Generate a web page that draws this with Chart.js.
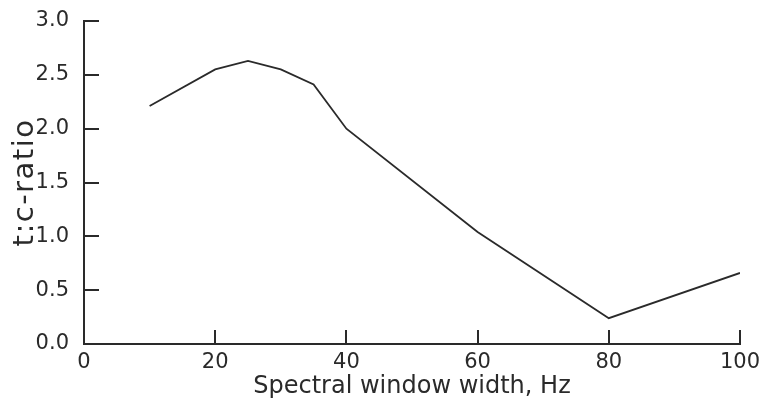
<!DOCTYPE html>
<html>
<head>
<meta charset="utf-8">
<script src="https://cdn.jsdelivr.net/npm/chart.js@4/dist/chart.umd.min.js"></script>
<style>
  html, body { margin: 0; padding: 0; background: #fff; }
  #wrap { width: 761px; height: 405px; }
</style>
</head>
<body>
<div id="wrap"><canvas id="chart" width="761" height="405"></canvas></div>
<script>
// Values.
const widths = [10, 20, 25, 30, 35, 40, 60, 80, 100];
const ratios = [2.21, 2.55, 2.63, 2.55, 2.41, 2.0, 1.04, 0.24, 0.66];

const xTitle = 'Spectral window width, Hz';
const yTitle = 't:c-ratio';

const ink = '#2a2a2a';
const tickFont = {family: 'DejaVu Sans', size: 21};

// Short tick marks pointing into the plot, like the original.
const innerTicks = {
  id: 'innerTicks',
  afterDraw: (chart) => {
    const {ctx, chartArea, scales} = chart;
    ctx.save();
    ctx.strokeStyle = ink;
    ctx.lineWidth = 2;
    ctx.beginPath();
    scales.y.ticks.forEach(t => {
      const py = Math.round(scales.y.getPixelForValue(t.value));
      ctx.moveTo(chartArea.left, py);
      ctx.lineTo(chartArea.left + 15, py);
    });
    scales.x.ticks.forEach(t => {
      const px = Math.round(scales.x.getPixelForValue(t.value));
      ctx.moveTo(px, chartArea.bottom);
      ctx.lineTo(px, chartArea.bottom - 14);
    });
    ctx.stroke();
    ctx.restore();
  }
};

// The old Mac font spreads the y title out; widen it with letter spacing.
const spacedYTitle = {
  id: 'spacedYTitle',
  beforeDraw: (chart) => {
    const y = chart.scales.y;
    if (y._spaced) return;
    const orig = y.drawTitle;
    y.drawTitle = function () {
      const c = this.ctx;
      const prev = c.letterSpacing;
      c.letterSpacing = '1.5px';
      orig.apply(this, arguments);
      c.letterSpacing = prev || '0px';
    };
    y._spaced = true;
  }
};

const ctx = document.getElementById('chart').getContext('2d');
new Chart(ctx, {
  type: 'line',
  data: {
    datasets: [{
      data: widths.map((w, i) => ({x: w, y: ratios[i]})),
      borderColor: ink,
      borderWidth: 1.8,
      pointRadius: 0,
      tension: 0,
      fill: false,
    }],
  },
  options: {
    responsive: false,
    animation: false,
    layout: {padding: {left: 8, right: 21, top: 21, bottom: 4}},
    plugins: {
      legend: {display: false},
      tooltip: {enabled: false},
    },
    scales: {
      x: {
        type: 'linear',
        min: 0,
        max: 100,
        ticks: {stepSize: 20, color: ink, font: tickFont, padding: -2},
        grid: {display: false},
        border: {display: true, color: ink, width: 2},
        title: {display: true, text: xTitle, color: ink, font: {family: 'DejaVu Sans', size: 24}, padding: {top: -4, bottom: 0}},
        afterFit: (s) => { s.height = 405 - 344 - 4; },
      },
      y: {
        min: 0,
        max: 3,
        ticks: {stepSize: 0.5, color: ink, font: tickFont, padding: 7, callback: v => v.toFixed(1)},
        grid: {display: false},
        border: {display: true, color: ink, width: 2},
        title: {display: true, text: yTitle, color: ink, font: {family: 'DejaVu Sans', size: 29}, padding: {top: 0, bottom: 0}},
        afterFit: (s) => { s.width = 84 - 8; },
      },
    },
  },
  plugins: [innerTicks, spacedYTitle],
});
</script>
</body>
</html>
